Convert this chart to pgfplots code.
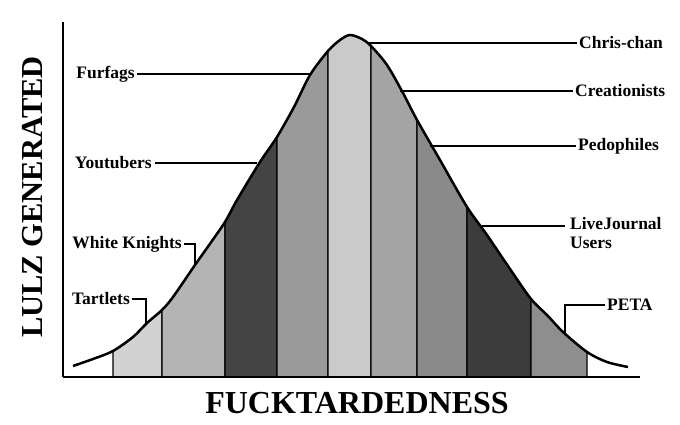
\documentclass[border=0pt]{standalone}
\usepackage{fontspec}
\setmainfont{Liberation Serif}
\usepackage{pgfplots}
\usepackage{pgfplotstable}
\pgfplotsset{compat=1.18}

\definecolor{tart}{HTML}{D2D2D2}
\definecolor{knights}{HTML}{B4B4B4}
\definecolor{youtube}{HTML}{444444}
\definecolor{furf}{HTML}{9A9A9A}
\definecolor{chris}{HTML}{CACACA}
\definecolor{creat}{HTML}{A4A4A4}
\definecolor{pedo}{HTML}{8A8A8A}
\definecolor{lj}{HTML}{3C3C3C}
\definecolor{peta}{HTML}{8E8E8E}

% bell curve: x, height above the base line
\pgfplotstableread{
x h
73 11
93 18
113 26
133 40
147 54
162 67
173 80
195 112
207 129
225 155
237 177
260 215
277 240
294 270
310 302
328 326
340 337
350 342
362 338
371 331
387 312
403 284
417 257
440 217
467 170
487 142
510 108
531 78
547 62
563 45
587 25
607 15
628 10
}\bell

\begin{document}
\begin{tikzpicture}
\path[use as bounding box] (0,0) rectangle (680bp,425bp);
\begin{axis}[
    at={(63bp,48bp)}, anchor=south west,
    scale only axis,
    width=577bp, height=355bp,
    xmin=63, xmax=640, ymin=0, ymax=355,
    axis x line*=bottom, axis y line*=left,
    axis line style={line width=2bp, black},
    xtick=\empty, ytick=\empty,
    axis on top,
    clip=false,
    xlabel={FUCKTARDEDNESS},
    ylabel={LULZ GENERATED},
    xlabel style={at={(axis description cs:0.5095,-0.073)}, anchor=center,
        font=\fontsize{32bp}{34bp}\selectfont\bfseries},
    ylabel style={at={(axis description cs:-0.052,0.507)}, anchor=center,
        font=\fontsize{30.5bp}{32bp}\selectfont\bfseries},
    band/.style={draw=black, line width=1.3bp, smooth},
]
\addplot[band, fill=tart,    restrict x to domain=113:162] table {\bell} \closedcycle;
\addplot[band, fill=knights, restrict x to domain=162:225] table {\bell} \closedcycle;
\addplot[band, fill=youtube, restrict x to domain=225:277] table {\bell} \closedcycle;
\addplot[band, fill=furf,    restrict x to domain=277:328] table {\bell} \closedcycle;
\addplot[band, fill=chris,   restrict x to domain=328:371] table {\bell} \closedcycle;
\addplot[band, fill=creat,   restrict x to domain=371:417] table {\bell} \closedcycle;
\addplot[band, fill=pedo,    restrict x to domain=417:467] table {\bell} \closedcycle;
\addplot[band, fill=lj,      restrict x to domain=467:531] table {\bell} \closedcycle;
\addplot[band, fill=peta,    restrict x to domain=531:587] table {\bell} \closedcycle;

\addplot[smooth, line width=2.5bp, black] table {\bell};

% labels and leader lines
\tikzset{lbl/.style={font=\fontsize{17.5bp}{19bp}\selectfont\bfseries, inner sep=0pt}}
\draw[line width=1.5bp] (axis cs:367,334) -- (axis cs:577,334);
\node[lbl, anchor=west] at (axis cs:579,334) {Chris-chan};
\draw[line width=1.5bp] (axis cs:400,286) -- (axis cs:573,286);
\node[lbl, anchor=west] at (axis cs:575,286) {Creationists};
\draw[line width=1.5bp] (axis cs:430,231) -- (axis cs:576,231);
\node[lbl, anchor=west] at (axis cs:578,231) {Pedophiles};
\draw[line width=1.5bp] (axis cs:482,151) -- (axis cs:565,151);
\node[lbl, anchor=west, align=left] at (axis cs:570,144) {LiveJournal\\Users};
\draw[line width=1.5bp] (axis cs:565,44) -- (axis cs:565,72) -- (axis cs:605,72);
\node[lbl, anchor=west] at (axis cs:607,72) {PETA};

\draw[line width=1.5bp] (axis cs:137,303) -- (axis cs:310,303);
\node[lbl, anchor=east] at (axis cs:135,303) {Furfags};
\draw[line width=1.5bp] (axis cs:155,214) -- (axis cs:257,214);
\node[lbl, anchor=east] at (axis cs:152,214) {Youtubers};
\draw[line width=1.5bp] (axis cs:184,133) -- (axis cs:195,133) -- (axis cs:195,113);
\node[lbl, anchor=east] at (axis cs:182,133) {White Knights};
\draw[line width=1.5bp] (axis cs:132,78) -- (axis cs:146,78) -- (axis cs:146,54);
\node[lbl, anchor=east] at (axis cs:130,78) {Tartlets};
\end{axis}
\end{tikzpicture}
\end{document}
